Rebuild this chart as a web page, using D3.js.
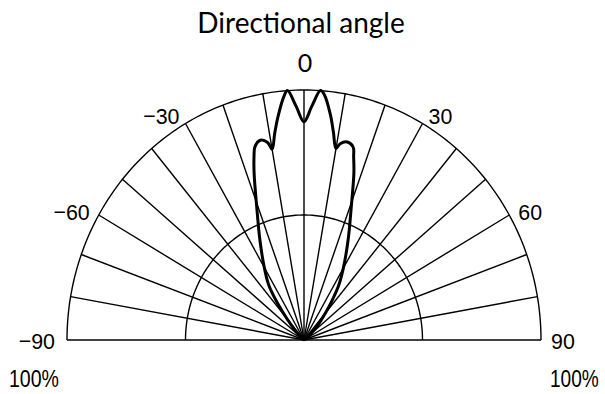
<!DOCTYPE html>
<html>
<head>
<meta charset="utf-8">
<script src="https://cdn.jsdelivr.net/npm/d3@7"></script>
<style>
	body { margin: 0; background: #fff; }
	svg { display: block; }
	.grid { fill: none; stroke: #000; stroke-width: 1.4; }
	.curve { fill: none; stroke: #000; stroke-width: 3; stroke-linejoin: round; }
	.lbl { font-family: "Liberation Sans", Arial, sans-serif; font-size: 23px; fill: #000; }
	.ttl { font-family: Lato, "Open Sans", sans-serif; font-size: 25px; fill: #000; }
</style>
</head>
<body>
<svg id="chart"></svg>
<script>
	// angle (deg) / relative intensity (%)
	var angles = [-90, -60, -50, -45, -40, -37, -34, -30, -25, -20.5, -17.5, -16, -15, -13, -11, -10, -8.5, -7, -5, -4, -2, 0,
		2, 4, 5, 7, 8.5, 10, 11, 13, 15, 16, 17.5, 20.5, 25, 30, 34, 37, 40, 45, 50, 60, 90];
	var intensity = [0, 0.5, 2, 5, 11.5, 19, 26.7, 33.5, 44, 57, 70, 76.5, 80, 82, 80.5, 77.5, 83.6, 90, 97.7, 100, 93.4, 87.3,
		93.5, 100, 98.5, 91, 84, 77.8, 80, 81.3, 80, 76, 70, 57, 44, 33.2, 26, 19.5, 14, 8, 3, 0.5, 0];

	var spokeAngles = d3.range(-90, 91, 10);
	var ringValues = [50, 100];
	var angleLabels = [-90, -60, -30, 0, 30, 60, 90];

	var width = 605, height = 394;
	var cx = 304, cy = 340;
	var rx = 237, ry = 250; // picture is slightly squeezed horizontally

	var svg = d3.select("#chart")
		.attr("width", width)
		.attr("height", height);

	var ang = d3.scaleLinear().domain([-90, 90]).range([-Math.PI / 2, Math.PI / 2]);
	var rad = d3.scaleLinear().domain([0, 100]).range([0, 1]);

	function px(a, v) { return cx + rx * rad(v) * Math.sin(ang(a)); }
	function py(a, v) { return cy - ry * rad(v) * Math.cos(ang(a)); }

	//narrow-ish label text, anchored at (x,y)
	function label(x, y, txt, anchor) {
		return svg.append("text")
			.attr("class", "lbl")
			.attr("text-anchor", anchor)
			.attr("transform", "translate(" + x + "," + y + ") scale(0.93,1)")
			.text(txt);
	}

	//rings
	var ringLine = d3.line()
		.x(function(d) { return px(d[0], d[1]); })
		.y(function(d) { return py(d[0], d[1]); });

	svg.append("g").selectAll("path")
		.data(ringValues)
		.enter().append("path")
		.attr("class", "grid")
		.attr("d", function(v) {
			return ringLine(d3.range(-90, 90.5, 1).map(function(a) { return [a, v]; }));
		});

	//spokes
	svg.append("g").selectAll("line")
		.data(spokeAngles)
		.enter().append("line")
		.attr("class", "grid")
		.attr("x1", px(0, 0))
		.attr("y1", py(0, 0))
		.attr("x2", function(a) { return px(a, 100); })
		.attr("y2", function(a) { return py(a, 100); });

	//curve
	var pts = angles.map(function(a, i) { return [a, intensity[i]]; });
	svg.append("path")
		.datum(pts)
		.attr("class", "curve")
		.attr("d", ringLine.curve(d3.curveCatmullRom.alpha(0.5)));

	//angle labels
	angleLabels.forEach(function(a) {
		var txt = a < 0 ? "\u2212" + (-a) : String(a);
		var x = px(a, 100), y = py(a, 100);
		var s = a < 0 ? -1 : 1;
		if (a === 0) {
			svg.append("text").attr("class", "ttl")
				.attr("x", x + 1).attr("y", 72)
				.attr("text-anchor", "middle")
				.text(txt);
		} else if (Math.abs(a) === 90) {
			label(a < 0 ? x - 12 : x + 10, y + 9, txt, a < 0 ? "end" : "start");
		} else if (Math.abs(a) === 60) {
			label(x + s * 9, y + 5, txt, a < 0 ? "end" : "start");
		} else {
			label(x + s * 6, y + 1, txt, a < 0 ? "end" : "start");
		}
	});

	//100% labels
	label(9, 387, "100%", "start")
		.attr("transform", "translate(9,387) scale(0.85,1)");
	label(550, 387, "100%", "start")
		.attr("transform", "translate(550,387) scale(0.83,1)");

	//title
	svg.append("text").attr("class", "ttl")
		.attr("x", 301).attr("y", 33)
		.attr("text-anchor", "middle")
		.style("font-size", "28px")
		.text("Directional angle");
</script>
</body>
</html>
